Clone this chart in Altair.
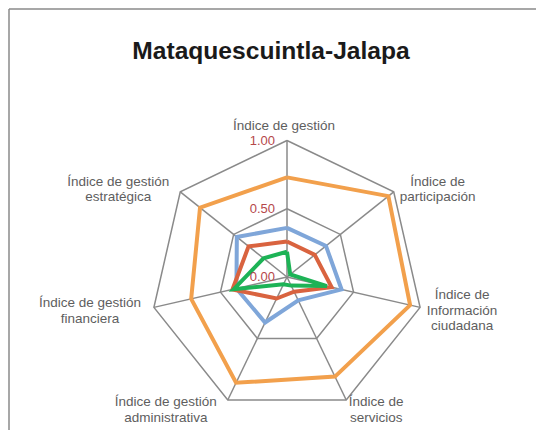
import altair as alt
import numpy as np
import pandas as pd

# ---------------- data ----------------
title_text = "Mataquescuintla-Jalapa"
categories = [
    "Índice de gestión",
    "Índice de participación",
    "Índice de Información ciudadana",
    "Índice de servicios",
    "Índice de gestión administrativa",
    "Índice de gestión financiera",
    "Índice de gestión estratégica",
]
label_text = [
    "Índice de gestión",
    "Índice de\nparticipación",
    "Índice de\nInformación\nciudadana",
    "Índice de\nservicios",
    "Índice de gestión\nadministrativa",
    "Índice de gestión\nfinanciera",
    "Índice de gestión\nestratégica",
]
series_names = ["Serie 1", "Serie 2", "Serie 3", "Serie 4"]
serie1 = [0.73, 0.95, 0.925, 0.81, 0.86, 0.72, 0.815]   # orange
serie2 = [0.36, 0.365, 0.41, 0.19, 0.37, 0.38, 0.47]    # blue
serie3 = [0.26, 0.26, 0.335, 0.12, 0.175, 0.41, 0.36]   # red
serie4 = [0.185, 0.03, 0.30, 0.07, 0.06, 0.40, 0.22]    # green
series_values = [serie1, serie2, serie3, serie4]
series_colors = ["#F2A04C", "#7FA6D9", "#D9633F", "#1DB356"]

ring_levels = [0.5, 1.0]
tick_levels = [0.0, 0.5, 1.0]
tick_labels = ["0.00", "0.50", "1.00"]

# ---------------- layout (styles) ----------------
W, H = 528, 422
CX, CY, R = 279, 269, 136.5
LH = 15.5
# pixel offsets of each category label block centre from its outer vertex (style)
label_dx = [-3, 44, 42, 30, -62, -64, -62]
label_dy = [-14.5, -2.5, 3.5, 10, 10, 3.5, -2.5]

n = len(categories)
ang = [2 * np.pi * i / n for i in range(n)]

def polygon(vals, name):
    rows = []
    for j in range(n + 1):
        k = j % n
        rows.append({"name": name, "order": j,
                     "x": vals[k] * np.sin(ang[k]),
                     "y": vals[k] * np.cos(ang[k])})
    return rows

ser_rows = []
for nm, vals in zip(series_names, series_values):
    ser_rows += polygon(vals, nm)
ser_df = pd.DataFrame(ser_rows)

ring_rows = []
for lv in ring_levels:
    ring_rows += polygon([lv] * n, str(lv))
ring_df = pd.DataFrame(ring_rows)

spoke_df = pd.DataFrame({
    "cat": categories,
    "x": [0.0] * n, "y": [0.0] * n,
    "x2": [np.sin(a) for a in ang],
    "y2": [np.cos(a) for a in ang],
})

# Vega puts the first line at the anchor; shift up so the block is centred
first_line_dy = [dy - (t.count("\n")) * LH / 2 for dy, t in zip(label_dy, label_text)]
lab_df = pd.DataFrame({
    "label": label_text,
    "x": [np.sin(a) + dx / R for a, dx in zip(ang, label_dx)],
    "y": [np.cos(a) - dy / R for a, dy in zip(ang, first_line_dy)],
})

tick_df = pd.DataFrame({"x": [0.0] * len(tick_levels), "y": tick_levels, "t": tick_labels})

xs = alt.Scale(domain=[-CX / R, (W - CX) / R], nice=False, zero=False)
ys = alt.Scale(domain=[-(H - CY) / R, CY / R], nice=False, zero=False)
X = alt.X("x:Q", scale=xs, axis=None)
Y = alt.Y("y:Q", scale=ys, axis=None)

grid_col = "#8A8A8A"

# outer chart frame: left and top edges
frame_v = alt.Chart(pd.DataFrame({"a": [0]})).mark_rule(color=grid_col, strokeWidth=1.5).encode(
    x=alt.value(1), y=alt.value(1), y2=alt.value(H))
frame_h = alt.Chart(pd.DataFrame({"a": [0]})).mark_rule(color=grid_col, strokeWidth=1.5).encode(
    y=alt.value(1), x=alt.value(1), x2=alt.value(W))

rings = alt.Chart(ring_df).mark_line(color=grid_col, strokeWidth=1.5).encode(
    x=X, y=Y, detail="name:N", order="order:Q")

spokes = alt.Chart(spoke_df).mark_rule(color=grid_col, strokeWidth=1.5).encode(
    x=X, y=Y, x2="x2:Q", y2="y2:Q")

lines = alt.Chart(ser_df).mark_line(strokeWidth=4).encode(
    x=X, y=Y, order="order:Q",
    color=alt.Color("name:N", scale=alt.Scale(domain=series_names, range=series_colors), legend=None))

ticks = alt.Chart(tick_df).mark_text(
    align="right", baseline="middle", dx=-12, fontSize=13, font="Liberation Sans", color="#B5484A"
).encode(x=X, y=Y, text="t:N")

labels = alt.Chart(lab_df).mark_text(
    align="center", baseline="middle", fontSize=13.5, font="Liberation Sans", color="#5E5E5E",
    lineBreak="\n", lineHeight=LH
).encode(x=X, y=Y, text="label:N")

title = alt.Chart(pd.DataFrame({"t": [title_text]})).mark_text(
    align="center", baseline="alphabetic", fontSize=24.6, fontWeight="bold",
    font="Liberation Sans", color="#1A1A1A"
).encode(x=alt.value(263), y=alt.value(51), text="t:N")

chart = alt.layer(frame_v, frame_h, rings, spokes, lines, ticks, labels, title).properties(
    width=W, height=H, padding=0, autosize="none", background="white"
).configure_view(stroke="transparent", strokeWidth=0)

chart.save("out.html", embed_options={"renderer": "svg", "actions": False})
